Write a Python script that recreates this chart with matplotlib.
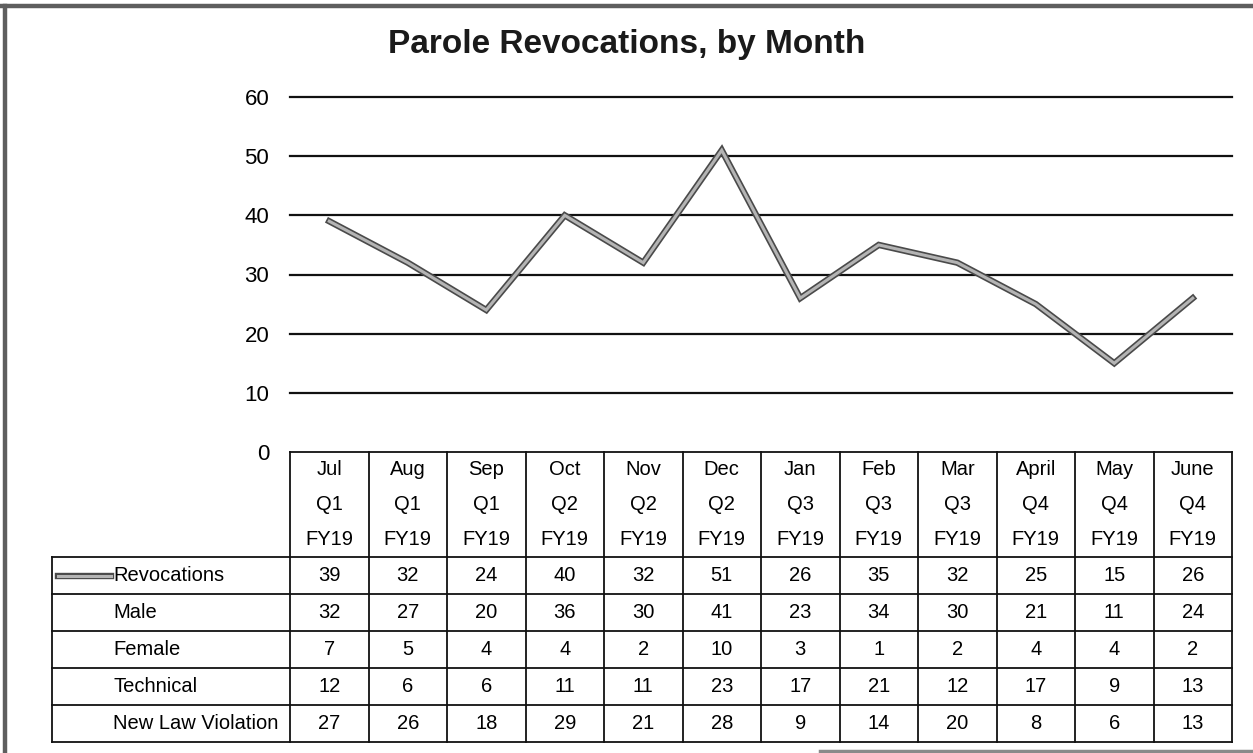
import numpy as np
import matplotlib
matplotlib.use("Agg")
import matplotlib.pyplot as plt
import matplotlib.patheffects as pe
from matplotlib.lines import Line2D

plt.rcParams['font.family'] = ['Liberation Sans', 'DejaVu Sans']

months = ["Jul", "Aug", "Sep", "Oct", "Nov", "Dec",
          "Jan", "Feb", "Mar", "April", "May", "June"]
quarters = ["Q1", "Q1", "Q1", "Q2", "Q2", "Q2",
            "Q3", "Q3", "Q3", "Q4", "Q4", "Q4"]
fiscal = ["FY19"] * 12

revocations = [39, 32, 24, 40, 32, 51, 26, 35, 32, 25, 15, 26]
male = [32, 27, 20, 36, 30, 41, 23, 34, 30, 21, 11, 24]
female = [7, 5, 4, 4, 2, 10, 3, 1, 2, 4, 4, 2]
technical = [12, 6, 6, 11, 11, 23, 17, 21, 12, 17, 9, 13]
new_law = [27, 26, 18, 29, 21, 28, 9, 14, 20, 8, 6, 13]

row_names = ["Revocations", "Male", "Female", "Technical", "New Law Violation"]
row_values = [revocations, male, female, technical, new_law]

W, H = 1253, 753
fig = plt.figure(figsize=(W / 100, H / 100), dpi=100)
fig.patch.set_facecolor("white")

# pixel layout helpers
def fx(px):
    return px / W

def fy(py):
    return 1 - py / H

x_left, x_right = 290, 1232
y_top, y_zero = 97, 452
y_table_bot = 742
label_left = 52
col_w = (x_right - x_left) / 12

line_fx = [pe.Stroke(linewidth=4.6, foreground="#4a4a4a"), pe.Normal()]

# chart area
ax = fig.add_axes([fx(x_left), fy(y_zero), fx(x_right - x_left), (y_zero - y_top) / H])
x = np.arange(12)
ax.set_xlim(-0.5, 11.5)
ax.set_ylim(0, 60)
ax.set_yticks(np.arange(0, 61, 10))
ax.set_xticks([])
for s in ax.spines.values():
    s.set_visible(False)
ax.tick_params(axis="y", length=0, pad=15, labelsize=16)
for v in range(10, 61, 10):
    ax.axhline(v, color="#111111", lw=1.6, zorder=1, clip_on=False)
ax.plot(x, revocations, color="#b4b4b4", lw=2.2, solid_joinstyle="miter",
        path_effects=line_fx, zorder=3, clip_on=False)

fig.text(0.5, fy(45), "Parole Revocations, by Month", ha="center", va="center",
         fontsize=24, fontweight="bold", color="#1a1a1a")

# data table below the chart
hdr = 105 / 37
n_rows = len(row_names)
label_w = (x_left - label_left) / col_w
tax = fig.add_axes([fx(label_left), fy(y_table_bot), fx(x_right - label_left),
                    (y_table_bot - y_zero) / H])
tax.set_xlim(-0.5 - label_w, 11.5)
tax.set_ylim(hdr + n_rows, 0)
tax.axis("off")

lk = dict(color="#111111", lw=1.3, solid_capstyle="projecting", clip_on=False)
fs = 14.5

# header cells
tax.plot([-0.5, 11.5], [0, 0], **lk)
for i in range(13):
    tax.plot([i - 0.5, i - 0.5], [0, hdr + n_rows], **lk)
for i in range(12):
    for k, txt in enumerate([months[i], quarters[i], fiscal[i]]):
        tax.text(i, hdr * (2 * k + 1) / 6, txt, ha="center", va="center", fontsize=fs)

# data rows
lx = -0.5 - label_w
for r in range(n_rows + 1):
    tax.plot([lx, 11.5], [hdr + r, hdr + r], **lk)
tax.plot([lx, lx], [hdr, hdr + n_rows], **lk)
text_x = -0.5 + (113 - x_left) / col_w
for r, (name, vals) in enumerate(zip(row_names, row_values)):
    yc = hdr + r + 0.5
    tax.text(text_x, yc, name, ha="left", va="center", fontsize=fs)
    for i, v in enumerate(vals):
        tax.text(i, yc, str(v), ha="center", va="center", fontsize=fs)

# legend key next to the series name
kx0 = -0.5 + (58 - x_left) / col_w
kx1 = -0.5 + (111 - x_left) / col_w
tax.plot([kx0, kx1], [hdr + 0.5, hdr + 0.5], color="#b4b4b4", lw=2.2,
         path_effects=line_fx)

# page frame
frame = dict(color="#5e5e5e", lw=3.2, transform=fig.transFigure)
fig.add_artist(Line2D([0, 1], [fy(6), fy(6)], **frame))
fig.add_artist(Line2D([fx(5), fx(5)], [fy(6), 0], **frame))
fig.add_artist(Line2D([fx(820), 1], [fy(751), fy(751)], color="#8a8a8a", lw=2.5,
                      transform=fig.transFigure))

fig.savefig("out.png", dpi=100)
